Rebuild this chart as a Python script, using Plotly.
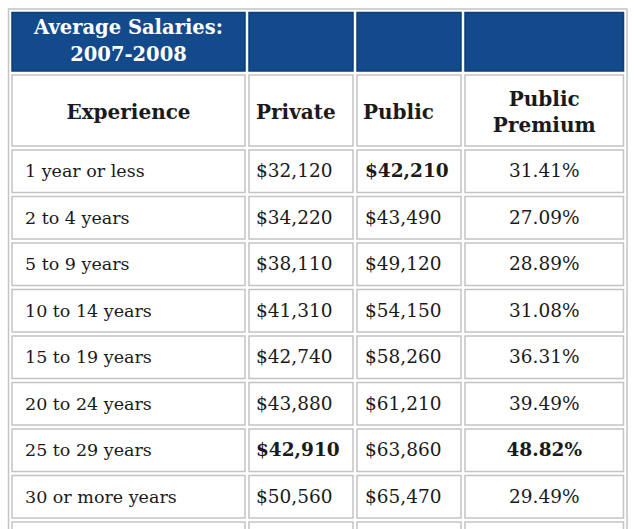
import plotly.graph_objects as go

# ---- data ----
title_lines = ["Average Salaries:", "2007-2008"]
headers = ["Experience", "Private", "Public", "Public<br>Premium"]
experience = ["1 year or less", "2 to 4 years", "5 to 9 years", "10 to 14 years",
              "15 to 19 years", "20 to 24 years", "25 to 29 years", "30 or more years"]
private = [32120, 34220, 38110, 41310, 42740, 43880, 42910, 50560]
public = [42210, 43490, 49120, 54150, 58260, 61210, 63860, 65470]
premium = [31.41, 27.09, 28.89, 31.08, 36.31, 39.49, 48.82, 29.49]
bold_private = [False, False, False, False, False, False, True, False]
bold_public = [True, False, False, False, False, False, False, False]
bold_premium = [False, False, False, False, False, False, True, False]

# ---- layout constants ----
W, H = 634, 529
col_edges = [10, 247, 355, 463, 625.5]
top = 10.5
n_rows_total = len(experience) + 1          # one more (cut-off) row below
row_heights = [62.5, 75] + [46.5] * n_rows_total
gap = 2
BLUE = "#124a8c"
GRID = "#c3c3c3"
TXT = "#1a1a1a"
FONT = "DejaVu Serif"
TEXT_DY = 1.5      # small baseline nudge for body text
HEAD_DY = 3

row_tops = [top]
for h in row_heights:
    row_tops.append(row_tops[-1] + h)

shapes = []
# outer frame
shapes.append(dict(type="rect", xref="x", yref="y",
                   x0=col_edges[0] - 1.5, x1=col_edges[-1] + 1.5,
                   y0=top - 1.5, y1=H + 40,
                   line=dict(color=GRID, width=1.5), fillcolor="rgba(0,0,0,0)", layer="below"))
for r in range(len(row_heights)):
    for c in range(len(col_edges) - 1):
        is_blue = r == 0
        shapes.append(dict(type="rect", xref="x", yref="y",
                           x0=col_edges[c] + gap, x1=col_edges[c + 1] - gap,
                           y0=row_tops[r] + gap, y1=row_tops[r + 1] - gap,
                           fillcolor=BLUE if is_blue else "white",
                           line=dict(color="#0d3f7a" if is_blue else GRID, width=1.5),
                           layer="below"))

def centers(r):
    return (row_tops[r] + row_tops[r + 1]) / 2

def b(s, flag):
    return f"<b>{s}</b>" if flag else s

fig = go.Figure()

# blue title cell (two lines)
c0 = centers(0)
fig.add_trace(go.Scatter(
    x=[(col_edges[0] + col_edges[1]) / 2] * 2, y=[c0 - 13, c0 + 14],
    mode="text", text=[f"<b>{t}</b>" for t in title_lines], textposition="middle center",
    textfont=dict(family=FONT, size=19.5, color="white"), hoverinfo="skip"))

# header row
hx = [(col_edges[0] + col_edges[1]) / 2, col_edges[1] + gap + 7,
      col_edges[2] + gap + 6, (col_edges[3] + col_edges[4]) / 2]
hpos = ["middle center", "middle right", "middle right", "middle center"]
for i in range(4):
    fig.add_trace(go.Scatter(
        x=[hx[i]], y=[centers(1) + HEAD_DY], mode="text",
        text=[f"<b>{headers[i]}</b>"], textposition=hpos[i],
        textfont=dict(family=FONT, size=20, color=TXT), hoverinfo="skip"))

ys = [centers(2 + i) + TEXT_DY for i in range(len(experience))]
fmt_money = lambda v: "${:,}".format(v)
DS = 18.5

fig.add_trace(go.Scatter(
    x=[col_edges[0] + gap + 13] * len(ys), y=ys, mode="text",
    text=experience, textposition="middle right",
    textfont=dict(family=FONT, size=17.5, color=TXT), hoverinfo="skip"))
fig.add_trace(go.Scatter(
    x=[col_edges[1] + gap + 7] * len(ys), y=ys, mode="text",
    text=[b(fmt_money(v), f) for v, f in zip(private, bold_private)],
    textposition="middle right",
    textfont=dict(family=FONT, size=DS, color=TXT), hoverinfo="skip"))
fig.add_trace(go.Scatter(
    x=[col_edges[2] + gap + 8] * len(ys), y=ys, mode="text",
    text=[b(fmt_money(v), f) for v, f in zip(public, bold_public)],
    textposition="middle right",
    textfont=dict(family=FONT, size=DS, color=TXT), hoverinfo="skip"))
fig.add_trace(go.Scatter(
    x=[(col_edges[3] + col_edges[4]) / 2] * len(ys), y=ys, mode="text",
    text=[b("{:.2f}%".format(v), f) for v, f in zip(premium, bold_premium)],
    textposition="middle center",
    textfont=dict(family=FONT, size=DS, color=TXT), hoverinfo="skip"))

fig.update_layout(
    width=W, height=H, margin=dict(l=0, r=0, t=0, b=0),
    paper_bgcolor="white", plot_bgcolor="white", showlegend=False,
    shapes=shapes,
    xaxis=dict(range=[0, W], visible=False, fixedrange=True),
    yaxis=dict(range=[H, 0], visible=False, fixedrange=True),
)
fig.write_html("out.html", config={"displayModeBar": False},
               post_script="document.body.style.margin='0';document.body.style.overflow='hidden';")
